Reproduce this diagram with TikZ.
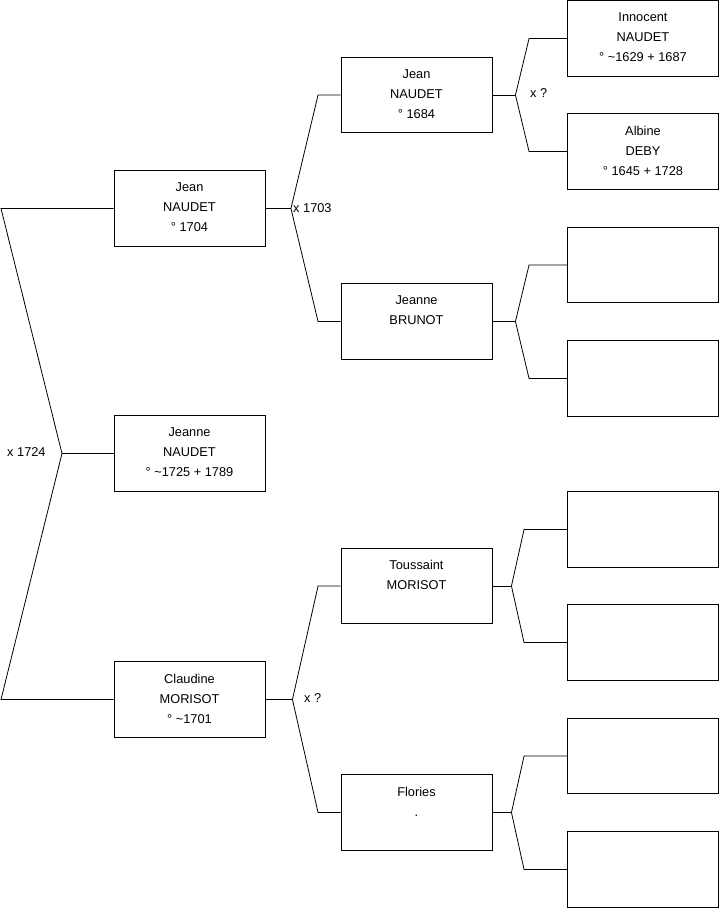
\documentclass[tikz,border=0pt]{standalone}
\usepackage{fontspec}
\setmainfont{Liberation Sans}
\begin{document}
\begin{tikzpicture}[x=1pt,y=-1pt,
  person/.style={draw=black, line width=0.9pt, minimum width=151pt, minimum height=75.5pt, inner sep=0pt, fill=white},
  ptext/.style={anchor=north, align=center, inner sep=0pt, yshift=-12.5pt, font=\fontsize{12.8}{20}\selectfont},
  link/.style={draw=black, line width=0.8pt},
  lbl/.style={anchor=west, inner sep=0pt, font=\fontsize{12.8}{15}\selectfont}]
\useasboundingbox (0,0) rectangle (719,908);
% generation 1
\node[person] (p1) at (189.5,208.5) {};
\node[ptext] (t1) at (p1.north) {Jean\\NAUDET\\° 1704};
\node[person] (p0) at (189.5,453.5) {};
\node[ptext] (t0) at (p0.north) {Jeanne\\NAUDET\\° \textasciitilde1725 + 1789};
\node[person] (p2) at (189.5,699.5) {};
\node[ptext] (t2) at (p2.north) {Claudine\\MORISOT\\° \textasciitilde1701};
% generation 2
\node[person] (p3) at (416.5,95) {};
\node[ptext] (t3) at (p3.north) {Jean\\NAUDET\\° 1684};
\node[person] (p4) at (416.5,321.5) {};
\node[ptext] (t4) at (p4.north) {Jeanne\\BRUNOT};
\node[person] (p5) at (416.5,586) {};
\node[ptext] (t5) at (p5.north) {Toussaint\\MORISOT};
\node[person] (p6) at (416.5,812.5) {};
\node[ptext] (t6) at (p6.north) {Flories\\.};
% generation 3
\node[person] (p7) at (643,38.5) {};
\node[ptext] (t7) at (p7.north) {Innocent\\NAUDET\\° \textasciitilde1629 + 1687};
\node[person] (p8) at (643,151.5) {};
\node[ptext] (t8) at (p8.north) {Albine\\DEBY\\° 1645 + 1728};
\node[person] (p9) at (643,265) {};
\node[person] (p10) at (643,378.5) {};
\node[person] (p11) at (643,529.5) {};
\node[person] (p12) at (643,642.5) {};
\node[person] (p13) at (643,756) {};
\node[person] (p14) at (643,869.5) {};
% bracket of the subject
\coordinate (j0) at (62,453.5);
\coordinate (c1) at (1,208.5);
\coordinate (c2) at (1,699.5);
\draw[link] (p1.west) -- (c1) -- (j0) -- (c2) -- (p2.west);
\draw[link] (j0) -- (p0.west);
\node[lbl] (m0) at (7,452) {x 1724};
% bracket of Jean NAUDET 1704
\draw[link] (p1.east) -- ++(25.5,0) coordinate (j1);
\draw[link] (p3.west) -- ++(-22.5,0) -- (j1) -- ([xshift=-22.5pt]p4.west) -- (p4.west);
\node[lbl] (m1) at (293,208) {x 1703};
% bracket of Claudine
\draw[link] (p2.east) -- ++(27,0) coordinate (j2);
\draw[link] (p5.west) -- ++(-22.5,0) -- (j2) -- ([xshift=-22.5pt]p6.west) -- (p6.west);
\node[lbl] (m2) at (304,698) {x ?};
% bracket of Jean NAUDET 1684
\draw[link] (p3.east) -- ++(23,0) coordinate (j3);
\draw[link] (p7.west) -- ++(-38,0) -- (j3) -- ([xshift=-38pt]p8.west) -- (p8.west);
\node[lbl] (m3) at (530,93) {x ?};
% bracket of Jeanne BRUNOT
\draw[link] (p4.east) -- ++(23,0) coordinate (j4);
\draw[link] (p9.west) -- ++(-38,0) -- (j4) -- ([xshift=-38pt]p10.west) -- (p10.west);
% bracket of Toussaint
\draw[link] (p5.east) -- ++(19,0) coordinate (j5);
\draw[link] (p11.west) -- ++(-43,0) -- (j5) -- ([xshift=-43pt]p12.west) -- (p12.west);
% bracket of Flories
\draw[link] (p6.east) -- ++(19,0) coordinate (j6);
\draw[link] (p13.west) -- ++(-43,0) -- (j6) -- ([xshift=-43pt]p14.west) -- (p14.west);
\end{tikzpicture}
\end{document}
